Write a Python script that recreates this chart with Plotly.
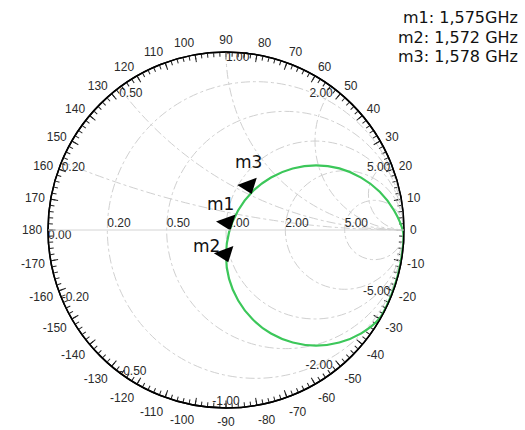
import numpy as np
import plotly.graph_objects as go

# ---- data (reflection coefficient, |G| and angle in degrees) ----
gamma_mag = [0.998, 0.995, 0.950, 0.890, 0.814, 0.725, 0.623, 0.510, 0.389, 0.261,
             0.129, 0.021, 0.143, 0.275, 0.402, 0.522, 0.634, 0.735, 0.823, 0.897,
             0.956, 0.995, 0.998, 0.998, 0.998]
gamma_deg = [-8.0, -0.7, 6.7, 14.0, 21.2, 28.5, 35.7, 42.7, 49.4, 55.5,
             58.3, -35.0, -90.0, -86.4, -80.2, -73.5, -66.5, -59.3, -52.1, -44.8,
             -37.4, -30.1, -22.8, -15.4, -8.0]

marker_names = ["m1", "m2", "m3"]
marker_mag = [0.025, 0.182, 0.248]
marker_deg = [-8.0, -86.0, 54.5]
marker_freqs = ["1,575GHz", "1,572 GHz", "1,578 GHz"]

# grid values of the Smith chart
r_ticks = [0.2, 0.5, 1.0, 2.0, 5.0]
x_ticks = [0.2, 0.5, 1.0, 2.0, 5.0]
x_label_vals = [0.2, 0.5, 1.0, 2.0, 5.0, -0.2, -0.5, -1.0, -2.0, -5.0]
x_label_pos = ["bottom right", "bottom right", "bottom right", "bottom left", "bottom left",
               "middle right", "middle right", "top center", "top left", "top left"]
deg_major = list(range(-170, 190, 10))
deg_minor = list(range(0, 360, 2))


def to_z(mag, deg):
    g = np.asarray(mag) * np.exp(1j * np.deg2rad(np.asarray(deg)))
    return (1 + g) / (1 - g)


z_trace = to_z(gamma_mag, gamma_deg)
z_mark = to_z(marker_mag, marker_deg)

W, H = 525, 430
cx, cy, R = 226, 230, 178
dom_x = [(cx - R) / W, (cx + R) / W]
dom_y = [1 - (cy + R) / H, 1 - (cy - R) / H]
LABEL_FONT = dict(family="Liberation Sans, Arial", size=12, color="#2a2a2a")

fig = go.Figure()

# empty traces so that the polar overlays are drawn
for sp in ["polar", "polar2", "polar3"]:
    fig.add_trace(go.Scatterpolar(r=[], theta=[], subplot=sp, showlegend=False))

# real-axis labels
fig.add_trace(go.Scattersmith(
    real=r_ticks, imag=[0] * len(r_ticks), mode="text",
    text=[f"{v:.2f}" for v in r_ticks], textposition="top right",
    textfont=LABEL_FONT, hoverinfo="skip", showlegend=False, subplot="smith"))
fig.add_trace(go.Scattersmith(
    real=[0], imag=[0], mode="text", text=["0.00"], textposition="bottom right",
    textfont=LABEL_FONT, hoverinfo="skip", showlegend=False, subplot="smith"))
# reactance labels at the rim
fig.add_trace(go.Scattersmith(
    real=[0] * len(x_label_vals), imag=x_label_vals, mode="text",
    text=[f"{v:.2f}" for v in x_label_vals], textposition=x_label_pos,
    textfont=LABEL_FONT, hoverinfo="skip", showlegend=False, subplot="smith"))

# measured trace
fig.add_trace(go.Scattersmith(
    real=z_trace.real, imag=z_trace.imag, mode="lines",
    line=dict(color="#3cc75a", width=2.2, shape="spline"),
    showlegend=False, subplot="smith"))

# markers (tip of triangle on the point)
fig.add_trace(go.Scattersmith(
    real=z_mark.real, imag=z_mark.imag, mode="markers",
    marker=dict(symbol="triangle-up", size=18, color="black", angle=160, standoff=9),
    showlegend=False, subplot="smith"))

polar_common = dict(domain=dict(x=dom_x, y=dom_y), bgcolor="rgba(0,0,0,0)",
                    radialaxis=dict(visible=False, range=[0, 1]))

fig.update_layout(
    width=W, height=H, margin=dict(l=0, r=0, t=0, b=0, pad=0),
    paper_bgcolor="white", plot_bgcolor="white",
    smith=dict(
        domain=dict(x=dom_x, y=dom_y), bgcolor="rgba(0,0,0,0)",
        realaxis=dict(tickvals=r_ticks, showticklabels=False, ticks="",
                      gridcolor="#d0d0d0", griddash="dashdot", gridwidth=1,
                      linecolor="#d4d4d4", linewidth=1, showline=True),
        imaginaryaxis=dict(tickvals=x_ticks, showticklabels=False, ticks="",
                           gridcolor="#d0d0d0", griddash="dashdot", gridwidth=1,
                           linecolor="black", linewidth=1.5, showline=True),
    ),
    polar=dict(**polar_common,
               angularaxis=dict(tickvals=deg_minor, ticks="inside", ticklen=4, tickwidth=1,
                                tickcolor="#222222", showticklabels=False, showgrid=False,
                                showline=True, linecolor="black", linewidth=1.5,
                                rotation=0, direction="counterclockwise")),
    polar2=dict(**polar_common,
                angularaxis=dict(tickvals=[v % 360 for v in deg_major], ticks="inside",
                                 ticklen=7, tickwidth=1, tickcolor="#222222",
                                 showticklabels=False, showgrid=False, showline=False,
                                 rotation=0, direction="counterclockwise")),
    polar3=dict(**polar_common,
                angularaxis=dict(tickvals=[v % 360 for v in deg_major],
                                 ticktext=[str(v) for v in deg_major],
                                 ticks="outside", ticklen=3, tickcolor="rgba(0,0,0,0)",
                                 tickfont=LABEL_FONT, showgrid=False, showline=False,
                                 rotation=0, direction="counterclockwise")),
    showlegend=False,
)

# marker labels
label_px = {"m1": (220, 204), "m2": (206, 246), "m3": (248, 162)}
for name in marker_names:
    px, py = label_px[name]
    fig.add_annotation(x=px / W, y=1 - py / H, xref="paper", yref="paper",
                       text=name, showarrow=False, xanchor="center", yanchor="middle",
                       font=dict(family="DejaVu Sans", size=17, color="#111111"))

# frequency legend (top right)
for i, (name, f) in enumerate(zip(marker_names, marker_freqs)):
    fig.add_annotation(x=519 / W, y=1 - (18 + 19.5 * i) / H, xref="paper", yref="paper",
                       text=f"{name}: {f}", showarrow=False, xanchor="right", yanchor="middle",
                       borderpad=0,
                       font=dict(family="DejaVu Sans", size=16, color="#111111"))

fig.write_html("out.html", config={"displayModeBar": False},
               post_script="document.body.style.margin='0px';")
